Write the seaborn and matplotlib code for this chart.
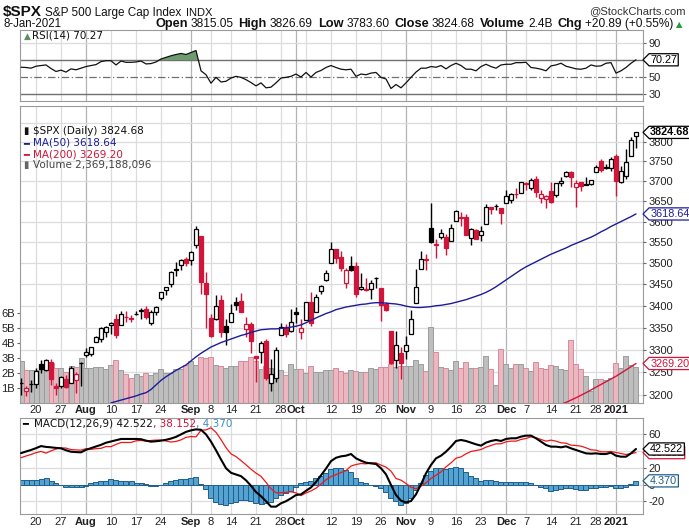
import numpy as np
import pandas as pd
import matplotlib
matplotlib.use("Agg")
import matplotlib.pyplot as plt
from matplotlib.path import Path
import seaborn as sns

# ---------------- data ----------------
prior_close = 3197.52
opens = [3225.98, 3208.36, 3224.21, 3224.29, 3268.52, 3254.86, 3271.64, 3218.58, 3219.84, 3234.27, 3227.22, 3231.76, 3270.45,
         3288.26, 3289.92, 3317.37, 3323.17, 3340.05, 3356.04, 3370.34, 3355.46, 3372.95, 3368.66, 3380.86, 3387.04, 3392.51, 3360.48, 3386.01, 3418.09, 3435.95, 3449.97, 3485.14, 3494.69, 3509.73,
         3507.44, 3543.76, 3564.74, 3453.60, 3371.88, 3369.82, 3412.56, 3352.70, 3363.56, 3407.73, 3411.23, 3346.86, 3357.38, 3285.57, 3295.75, 3320.11, 3226.14, 3236.66, 3333.90, 3350.92, 3341.21,
         3385.87, 3338.94, 3367.27, 3408.74, 3384.56, 3434.28, 3459.67, 3500.02, 3534.01, 3515.47, 3453.72, 3493.50, 3493.66, 3439.38, 3439.91, 3438.50, 3464.90, 3441.42, 3403.15, 3342.48, 3277.17, 3293.59,
         3296.20, 3336.25, 3406.46, 3485.74, 3508.34, 3583.04, 3543.26, 3563.22, 3562.67, 3552.57, 3600.16, 3610.31, 3612.09, 3559.41, 3579.31, 3566.82, 3594.52, 3635.50, 3638.55, 3634.18,
         3645.87, 3653.78, 3668.28, 3670.94, 3694.73, 3683.05, 3705.98, 3659.13, 3656.08, 3675.27, 3666.41, 3696.25, 3713.65, 3722.39, 3684.28, 3698.08, 3693.42, 3694.03, 3723.03, 3750.01, 3736.19, 3733.27,
         3764.61, 3698.02, 3712.20, 3764.71, 3815.05]
highs = [3238.28, 3220.39, 3233.52, 3258.61, 3277.29, 3279.32, 3279.99, 3227.26, 3241.43, 3243.72, 3264.74, 3250.92, 3272.17,
         3302.73, 3306.84, 3330.77, 3351.03, 3352.54, 3363.29, 3381.01, 3387.89, 3387.24, 3378.51, 3387.59, 3395.06, 3399.54, 3390.80, 3399.96, 3432.09, 3444.21, 3481.07, 3501.38, 3509.23, 3514.77,
         3528.03, 3588.11, 3564.85, 3479.15, 3379.97, 3424.77, 3425.55, 3368.95, 3402.93, 3419.48, 3428.92, 3375.17, 3362.27, 3285.57, 3320.31, 3323.35, 3278.70, 3306.88, 3360.74, 3357.92, 3393.56,
         3397.18, 3369.10, 3409.57, 3431.56, 3426.26, 3447.28, 3482.34, 3549.85, 3534.01, 3527.94, 3489.08, 3515.76, 3502.42, 3476.93, 3464.86, 3460.53, 3466.46, 3441.42, 3409.51, 3342.48, 3341.05, 3304.93,
         3330.14, 3389.49, 3486.25, 3529.05, 3521.58, 3645.99, 3557.22, 3581.16, 3569.02, 3593.66, 3628.51, 3623.11, 3619.09, 3585.22, 3581.23, 3589.81, 3642.31, 3635.50, 3644.31, 3634.18,
         3678.45, 3670.96, 3682.73, 3699.20, 3697.41, 3708.45, 3712.39, 3678.49, 3665.91, 3697.61, 3695.29, 3711.27, 3725.12, 3726.70, 3702.90, 3698.26, 3711.24, 3703.82, 3740.51, 3756.12, 3744.63, 3760.20,
         3769.99, 3737.83, 3783.04, 3811.55, 3826.69]
lows = [3200.76, 3198.59, 3205.65, 3215.16, 3247.77, 3253.10, 3222.66, 3200.05, 3214.25, 3216.17, 3227.22, 3204.13, 3220.26,
        3284.53, 3286.37, 3317.37, 3318.14, 3328.72, 3335.44, 3326.44, 3355.46, 3363.35, 3361.64, 3379.22, 3370.15, 3369.66, 3354.69, 3379.31, 3413.13, 3425.84, 3444.15, 3468.35, 3484.32, 3493.25,
        3494.60, 3535.23, 3427.41, 3349.63, 3329.27, 3366.84, 3329.25, 3310.47, 3363.56, 3389.25, 3384.45, 3328.82, 3292.40, 3229.10, 3270.95, 3232.57, 3209.45, 3228.44, 3332.91, 3327.54, 3340.47,
        3361.39, 3323.69, 3367.27, 3354.54, 3384.56, 3428.15, 3458.07, 3499.61, 3500.86, 3480.55, 3440.89, 3480.45, 3419.93, 3435.65, 3433.06, 3415.34, 3440.45, 3364.86, 3388.71, 3268.89, 3259.82, 3233.94,
        3279.74, 3336.25, 3405.17, 3485.74, 3484.34, 3547.48, 3511.91, 3557.00, 3518.58, 3552.57, 3600.16, 3588.68, 3567.33, 3543.84, 3556.85, 3552.77, 3594.52, 3617.76, 3629.33, 3594.39,
        3645.87, 3644.84, 3657.17, 3670.94, 3678.88, 3678.83, 3660.54, 3645.18, 3633.40, 3645.84, 3659.62, 3688.57, 3710.87, 3685.84, 3636.48, 3676.16, 3689.28, 3689.32, 3723.03, 3723.31, 3730.21, 3726.88,
        3662.71, 3695.07, 3705.34, 3764.71, 3783.60]
closes = [3226.56, 3215.57, 3224.73, 3251.84, 3257.30, 3276.02, 3235.66, 3215.63, 3239.41, 3218.44, 3258.44, 3246.22, 3271.12,
          3294.61, 3306.51, 3327.77, 3349.16, 3351.28, 3360.47, 3333.69, 3380.35, 3373.43, 3372.85, 3381.99, 3389.78, 3374.85, 3385.51, 3397.16, 3431.28, 3443.62, 3478.73, 3484.55, 3508.01, 3500.31,
          3526.65, 3580.84, 3455.06, 3426.96, 3331.84, 3398.96, 3339.19, 3340.97, 3383.54, 3401.20, 3385.49, 3357.01, 3319.47, 3281.06, 3315.57, 3236.92, 3246.59, 3298.46, 3351.60, 3335.47, 3363.00,
          3380.80, 3348.42, 3408.60, 3360.97, 3419.44, 3446.83, 3477.14, 3534.22, 3511.93, 3488.67, 3483.34, 3483.81, 3426.92, 3443.12, 3435.56, 3453.49, 3465.39, 3400.97, 3390.68, 3271.03, 3310.11, 3269.96,
          3310.24, 3369.16, 3443.44, 3510.45, 3509.44, 3550.50, 3545.53, 3572.66, 3537.01, 3585.15, 3626.91, 3609.53, 3567.79, 3581.87, 3557.54, 3577.59, 3635.41, 3629.65, 3638.35, 3621.63,
          3662.45, 3669.01, 3666.72, 3699.12, 3691.96, 3702.25, 3672.82, 3668.10, 3663.46, 3647.49, 3694.62, 3701.17, 3722.48, 3709.41, 3694.92, 3687.26, 3690.01, 3703.06, 3735.36, 3727.04, 3732.04, 3756.07,
          3700.65, 3726.86, 3748.14, 3803.79, 3824.68]
volume_b = [2.78, 2.2, 2.2, 2.2, 2.4, 2.5, 2.65, 2.35, 2.35, 2.1, 2.45, 2.4, 3.0,
            2.33, 2.33, 2.38, 2.38, 2.3, 2.53, 2.84, 2.18, 1.93, 1.67, 1.91, 1.8, 1.98, 1.84, 2.0, 2.24, 1.98, 2.0, 2.29, 2.24, 2.53,
            2.8, 2.53, 3.1, 2.98, 3.07, 2.53, 2.5, 2.33, 2.5, 2.45, 2.78, 2.78, 3.1, 2.8, 2.3, 2.5, 2.35, 2.3, 2.2, 1.9, 2.6,
            2.3, 2.3, 2.0, 2.5, 2.07, 2.09, 2.18, 2.18, 2.31, 2.13, 2.0, 2.18, 2.13, 2.09, 2.09, 2.36, 2.24, 2.4, 2.4, 2.6, 2.4, 2.47,
            2.47, 2.47, 2.87, 2.58, 2.13, 5.05, 3.4, 2.42, 2.36, 2.18, 2.8, 2.36, 2.73, 2.36, 2.31, 2.42, 3.13, 2.24, 1.18, 3.6,
            2.62, 2.36, 2.58, 2.58, 2.31, 2.13, 2.76, 2.33, 2.29, 2.51, 2.47, 2.29, 2.18, 4.18, 2.58, 2.24, 1.8, 0.8, 1.58, 1.58, 1.51, 1.69,
            2.69, 2.31, 3.11, 2.51, 2.37]
ma50 = [np.nan] * 18 + [
    3183, 3186, 3189, 3192, 3195, 3198, 3202, 3205, 3212, 3222, 3232, 3240, 3247, 3254, 3260, 3266,
    3275, 3284, 3292, 3299, 3306, 3311, 3316, 3320, 3324, 3328, 3332, 3335, 3339, 3342, 3345, 3346, 3347, 3347, 3348, 3349, 3351,
    3353, 3356, 3361, 3366, 3372, 3377, 3382, 3386, 3391, 3394, 3397, 3399, 3401, 3403, 3404, 3406, 3407, 3407, 3406, 3405, 3404, 3402,
    3399, 3397, 3396, 3396, 3397, 3398, 3400, 3401, 3403, 3405, 3408, 3411, 3414, 3418, 3422, 3426, 3431, 3437, 3444, 3452,
    3460, 3468, 3476, 3484, 3491, 3497, 3503, 3509, 3515, 3521, 3526, 3531, 3536, 3542, 3547, 3552, 3557, 3562, 3568, 3575, 3581, 3588,
    3594, 3600, 3606, 3612, 3618.64]
ma200 = [np.nan] * 108 + [3180, 3184, 3189, 3194, 3199.5, 3205, 3211, 3217, 3223, 3229, 3235, 3241, 3248, 3255, 3262, 3269.20]
rsi = [61.5, 61.2, 60.4, 62.7, 63.5, 64.2, 60.0, 56.5, 58.1, 55.8, 59.6, 58.5, 60.4,
       62.3, 63.5, 64.6, 68.1, 69.2, 69.2, 64.2, 68.8, 67.3, 67.3, 67.7, 68.8, 65.4, 65.8, 67.7, 71.2, 73.1, 75.0, 76.5, 77.7, 76.5,
       78.8, 81.2, 57.3, 52.7, 42.7, 49.6, 44.2, 45.0, 48.8, 50.8, 49.6, 46.9, 43.5, 39.6, 43.1, 37.3, 38.1, 43.1, 48.8, 49.6, 50.8,
       53.5, 50.0, 55.4, 50.0, 55.4, 57.7, 61.2, 63.5, 61.2, 59.2, 58.5, 59.2, 50.8, 53.5, 52.7, 54.6, 55.4, 49.6, 47.7, 36.5, 41.2, 37.3,
       43.1, 49.6, 55.8, 60.4, 60.4, 62.3, 61.5, 63.5, 59.6, 63.5, 66.2, 63.5, 59.2, 59.2, 57.3, 62.3, 65.0, 62.3, 60.4, 64.2,
       65.0, 65.0, 66.9, 66.9, 67.3, 61.2, 60.4, 59.2, 57.3, 63.1, 64.2, 66.2, 62.7, 61.2, 59.6, 59.2, 60.4, 64.2, 62.7, 63.1, 66.2, 66.9,
       54.6, 57.3, 61.2, 66.2, 70.27]
macd = [37.5, 39.5, 41.3, 43.5, 46, 45, 44.5, 43.8, 43.3, 41, 39.2, 38.8, 38.5,
        41.5, 43.5, 45.5, 47.5, 50, 51.5, 53, 54.5, 54.5, 54.5, 54.5, 54.2, 52.5, 51.3, 51.8, 52.5, 53.5, 55, 57, 60, 63,
        64.8, 66, 65.5, 60, 51.3, 41, 30, 19.5, 14, 12, 10, 5, -1.5, -9, -14, -20, -26.5, -26.5, -22.5, -20, -16.5,
        -12.6, -11.8, -7.5, -3.5, 3, 11, 19, 28, 32, 33.7, 34.5, 36.5, 31.3, 28.5, 26.1, 25.3, 24.5, 19.4, 12.2, -0.6, -12.6, -19.4,
        -21.4, -19.8, -11.8, 0.2, 13.4, 23.4, 31.3, 34.5, 39.3, 45.3, 52.1, 53.3, 52.1, 50.1, 48.1, 46.5, 50.1, 52.1, 53.3, 52.1,
        54.5, 55.3, 55.3, 57.3, 58.5, 58.5, 55.3, 51.3, 47.3, 45.3, 45.3, 44.5, 45.7, 43.3, 41.3, 39.3, 37.3, 36.9, 37.3, 36.5, 36.5, 38.1,
        34.5, 33.3, 33.3, 37.3, 42.522]
macd_hist = [5.4, 5.4, 5.4, 5.4, 6.4, 7.4, 4.2, 1.4, -0.6, -2.6, -2.6, -2.6, -2.6,
             -1.4, 1.4, 2.6, 4.2, 4.6, 6.2, 5.0, 4.2, 4.2, 4.2, 2.2, 1.4, 0.6, -1.4, -1.4, -0.6, 1.4, 4.2, 5.4, 6.6, 6.6,
             7.4, 9.0, 0.6, -5.4, -16.6, -21.4, -23.8, -24.6, -22.6, -21.4, -18.6, -18.6, -19.8, -22.6, -23.8, -22.6, -21.4, -16.6, -12.6, -10.6, -7.8,
             -2.6, 1.4, 2.6, 4.2, 7.4, 10.6, 13.4, 18.6, 20.2, 19.4, 17.9, 14.4, 7.4, 3.4, 1.4, -0.6, -1.4, -3.8, -8.6, -16.6, -19.8, -24.6,
             -22.6, -16.6, -6.6, 2.2, 11.4, 16.2, 20.2, 19.4, 18.2, 19.4, 20.6, 20.2, 15.4, 10.6, 7.4, 4.6, 5.4, 5.4, 4.6, 3.4,
             3.4, 3.4, 3.4, 3.4, 3.4, 1.4, -0.6, -2.6, -4.6, -7.8, -6.6, -5.4, -3.8, -3.8, -5.4, -6.6, -6.6, -4.6, -3.8, -2.6, -2.6, -1.4,
             -3.8, -3.8, -2.6, 0.2, 4.370]

tick_pos = [3, 8, 13, 18, 23, 28, 34, 38, 42, 47, 52, 55, 62, 67, 72, 77, 82, 87, 92, 97, 101, 106, 111, 115, 119]
tick_lab = ["20", "27", "Aug", "10", "17", "24", "Sep", "8", "14", "21", "28", "Oct", "12", "19", "26", "Nov",
            "9", "16", "23", "Dec", "7", "14", "21", "28", "2021"]
grid_pos = [3, 8, 13, 18, 23, 28, 34, 38, 42, 47, 52, 55, 57, 62, 67, 72, 77, 82, 87, 92, 97, 101, 106, 111, 115, 119]
month_pos = [13, 34, 55, 77, 97, 119]
price_ticks = [3200, 3250, 3300, 3350, 3400, 3450, 3500, 3550, 3600, 3650, 3700, 3750, 3800]
price_grid = price_ticks + [3850]

df = pd.DataFrame({"i": np.arange(len(closes)), "open": opens, "high": highs, "low": lows,
                   "close": closes, "vol": volume_b, "ma50": ma50, "ma200": ma200,
                   "rsi": rsi, "macd": macd, "hist": macd_hist})
df["prev"] = [prior_close] + closes[:-1]
df["signal"] = df["macd"] - df["hist"]

# ---------------- style ----------------
sns.set_style("white")
plt.rcParams["font.family"] = ["Liberation Sans", "DejaVu Sans"]
RED = "#D2143A"
BLUE = "#1C1C9A"
GRIDC = "#DCDCDC"
MONTHC = "#B4B4B4"
SPINEC = "#9A9A9A"

W, H = 689, 528
fig = plt.figure(figsize=(W / 100, H / 100), dpi=100)
fig.patch.set_facecolor("white")


def rect(x0, y0, x1, y1):
    return [x0 / W, 1 - y1 / H, (x1 - x0) / W, (y1 - y0) / H]


X0, X1 = 20, 643
XL = ((X0 - 21) / 5.0, (X1 - 21) / 5.0)
idx = df["i"].values

rax = fig.add_axes(rect(X0, 30, X1, 101))
vax = fig.add_axes(rect(X0, 106, X1, 403))
ax = vax.twinx()
max_ = fig.add_axes(rect(X0, 418, X1, 514))

P_LO, P_HI = 3182.7, 3893.8
V_HI = (403 - 106) / 15.0

for a in (rax, vax, max_):
    a.set_xlim(*XL)
    for s in a.spines.values():
        s.set_color(SPINEC)
        s.set_linewidth(0.8)
for s in ax.spines.values():
    s.set_visible(False)

for a in (rax, vax, max_):
    for g in grid_pos:
        a.axvline(g, color=MONTHC if g in month_pos else GRIDC, lw=0.9, zorder=0)

# ---------- main panel ----------
vax.set_ylim(0, V_HI)
lp0, lp1 = np.log(P_LO), np.log(P_HI)
for p in price_grid:
    f = (np.log(p) - lp0) / (lp1 - lp0)
    vax.axhline(f * V_HI, color=GRIDC, lw=0.9, zorder=0)

down = df["close"] < df["prev"]
vcol = np.where(down, "#EBB8C2", "#BEBEBE")
vedge = np.where(down, "#D88A9B", "#9C9C9C")
vax.bar(idx, df["vol"], width=1.0, color=vcol, edgecolor=vedge, linewidth=0.7, zorder=2)
vax.set_yticks([1, 2, 3, 4, 5, 6])
vax.set_yticklabels(["1B", "2B", "3B", "4B", "5B", "6B"])
vax.tick_params(axis="y", left=True, length=2, width=0.8, color="#666", pad=1.5, labelsize=8, labelcolor="#222")

ax.set_yscale("log")
ax.set_ylim(P_LO, P_HI)
ax.minorticks_off()
ax.set_yticks(price_ticks)
ax.set_yticklabels([str(p) for p in price_ticks])
ax.tick_params(axis="y", right=True, length=2, width=0.8, color="#666", pad=2, labelsize=8, labelcolor="#222")
ax.set_xlim(*XL)

ccol = np.where(down, RED, "black")
hollow = df["close"] > df["open"]
ax.vlines(idx, df["low"], df["high"], colors=ccol, lw=1.0, zorder=3)
body_lo = np.minimum(df["open"], df["close"])
body_h = np.maximum(np.abs(df["close"] - df["open"]), 0.6)
face = np.where(hollow, "white", ccol)
ax.bar(idx, body_h, bottom=body_lo, width=0.74, color=face, edgecolor=ccol, linewidth=0.9, zorder=4)

sns.lineplot(x=idx, y=df["ma50"], ax=ax, color=BLUE, lw=1.0, estimator=None, sort=False, zorder=5)
sns.lineplot(x=idx, y=df["ma200"], ax=ax, color=RED, lw=1.0, estimator=None, sort=False, zorder=5)
ax.set_xlabel("")
ax.set_ylabel("")

vax.set_xticks(tick_pos)
vax.set_xticklabels(tick_lab)
vax.tick_params(axis="x", bottom=False, length=0, pad=1.5, labelsize=8, labelcolor="#222")
for t, lab in zip(vax.get_xticklabels(), tick_lab):
    if not lab.isdigit() or lab == "2021":
        t.set_fontweight("bold")

# ---------- RSI ----------
rax.set_ylim(21.8, 105.3)
rax.axhline(90, color=GRIDC, lw=0.9, zorder=0)
rax.axhline(70, color="#707070", lw=1.0, zorder=1)
rax.axhline(30, color="#707070", lw=1.0, zorder=1)
rax.axhline(50, color="#707070", lw=0.9, ls=(0, (6, 2, 1, 2)), zorder=1)
rsi_arr = df["rsi"].values
rax.fill_between(idx, 70, rsi_arr, where=rsi_arr > 70, interpolate=True, color="#6E9C6E", lw=0, zorder=2)
sns.lineplot(x=idx, y=df["rsi"], ax=rax, color="#111", lw=0.9, estimator=None, sort=False, zorder=3)
rax.set_xlabel("")
rax.set_ylabel("")
rax.yaxis.tick_right()
rax.set_yticks([30, 50, 90])
rax.set_yticklabels(["30", "50", "90"])
rax.tick_params(axis="y", right=True, length=2, width=0.8, color="#666", pad=2, labelsize=8, labelcolor="#222")
rax.set_xticks([])

# ---------- MACD ----------
max_.set_ylim(-35.3, 79.6)
for g in [-20, 0, 20, 40, 60]:
    max_.axhline(g, color=GRIDC, lw=0.9, zorder=0)
max_.bar(idx, df["hist"], width=1.0, color="#55A3D2", edgecolor="#1F5F8A", linewidth=0.7, zorder=2)
sns.lineplot(x=idx, y=df["signal"], ax=max_, color="#F01818", lw=0.9, estimator=None, sort=False, zorder=3)
sns.lineplot(x=idx, y=df["macd"], ax=max_, color="black", lw=1.5, estimator=None, sort=False, zorder=4)
max_.set_xlabel("")
max_.set_ylabel("")
max_.yaxis.tick_right()
max_.set_yticks([-20, 0, 20, 60])
max_.set_yticklabels(["-20", "0", "20", "60"])
max_.tick_params(axis="y", right=True, length=2, width=0.8, color="#666", pad=2, labelsize=8, labelcolor="#222")
max_.set_xticks(tick_pos)
max_.set_xticklabels(tick_lab)
max_.tick_params(axis="x", bottom=False, length=0, pad=2, labelsize=8, labelcolor="#222")
for t, lab in zip(max_.get_xticklabels(), tick_lab):
    if not lab.isdigit() or lab == "2021":
        t.set_fontweight("bold")


# ---------- value boxes (pentagon pointing left) ----------
def pentagon(x0, y0, width, height, mutation_size):
    pad = 0.1 * mutation_size
    x0, y0 = x0 - pad, y0 - pad
    w, h = width + 2 * pad, height + 2 * pad
    tip = h * 0.5
    return Path([(x0, y0), (x0 + w, y0), (x0 + w, y0 + h), (x0, y0 + h), (x0 - tip, y0 + h / 2), (x0, y0)],
                [Path.MOVETO, Path.LINETO, Path.LINETO, Path.LINETO, Path.LINETO, Path.CLOSEPOLY])


def vbox(a, yv, txt, color, bold=False, z=10, tcolor="black"):
    a.text(1.0115, yv, txt, transform=a.get_yaxis_transform(), ha="left", va="center",
           fontsize=7.8, color=tcolor, fontweight="bold" if bold else "normal",
           bbox=dict(boxstyle=pentagon, fc="white", ec=color, lw=0.9), zorder=z, clip_on=False)


vbox(ax, closes[-1], "3824.68", "black", bold=True)
vbox(ax, ma50[-1], "3618.64", BLUE, tcolor=BLUE)
vbox(ax, ma200[-1], "3269.20", RED, tcolor=RED)
vbox(rax, rsi[-1], "70.27", "black")
vbox(max_, df["signal"].iloc[-1], "38.152", RED, z=9, tcolor=RED)
vbox(max_, macd[-1], "42.522", "black", z=10)
vbox(max_, macd_hist[-1], "4.370", "#1F5F8A", tcolor="#1F5F8A")

# ---------- legends ----------
LF = ["DejaVu Sans"]
fig.text(24 / W, 1 - 36 / H, "▲", color="#5E8E5E", fontsize=6.5, va="center", family=LF)
fig.text(32 / W, 1 - 36 / H, "RSI(14) 70.27", color="#111", fontsize=7.5, va="center", family=LF)
fig.text(23 / W, 1 - 131 / H, "▮", color="#111", fontsize=7, va="center", family=LF)
fig.text(33 / W, 1 - 131 / H, "$SPX (Daily) 3824.68", color="#111", fontsize=7.5, va="center", family=LF)
fig.text(23 / W, 1 - 143 / H, "━", color=BLUE, fontsize=7, va="center", family=LF)
fig.text(33 / W, 1 - 143 / H, "MA(50) 3618.64", color=BLUE, fontsize=7.5, va="center", family=LF)
fig.text(23 / W, 1 - 154 / H, "━", color=RED, fontsize=7, va="center", family=LF)
fig.text(33 / W, 1 - 154 / H, "MA(200) 3269.20", color=RED, fontsize=7.5, va="center", family=LF)
fig.text(23 / W, 1 - 165 / H, "▮", color="#666", fontsize=7, va="center", family=LF)
fig.text(33 / W, 1 - 165 / H, "Volume 2,369,188,096", color="#444", fontsize=7.5, va="center", family=LF)
fig.text(22 / W, 1 - 423 / H, "━", color="black", fontsize=7, va="center", family=LF)
fig.text(34 / W, 1 - 423 / H, "MACD(12,26,9) 42.522", color="#111", fontsize=7.5, va="center", family=LF)
fig.canvas.draw()
r = fig.canvas.get_renderer()


def seq(x, y, pieces, align="left"):
    objs, widths = [], []
    for s, kw, gap in pieces:
        t = fig.text(0, 1 - y / H, s, va="baseline", **kw)
        objs.append(t)
        widths.append(t.get_window_extent(renderer=r).width + gap)
    cx = x if align == "left" else x - sum(widths)
    for t, w in zip(objs, widths):
        t.set_x(cx / W)
        cx += w


lastm = [t for t in fig.texts if t.get_text() == "MACD(12,26,9) 42.522"][0]
bb = lastm.get_window_extent(renderer=r)
seq(bb.x1, 423 + 3.5, [(", 38.152", dict(color=RED, fontsize=7.5, family=LF), 0),
                       (", 4.370", dict(color="#3A8FC4", fontsize=7.5, family=LF), 0)])

seq(3, 16, [("$SPX", dict(fontsize=11, fontweight="bold", color="#111"), 3),
            ("S&P 500 Large Cap Index", dict(fontsize=8.5, color="#111"), 5),
            ("INDX", dict(fontsize=8, color="#111"), 0)])
fig.text(686 / W, 1 - 14 / H, "@StockCharts.com", fontsize=8, color="#333", ha="right", va="baseline")
fig.text(3 / W, 1 - 27 / H, "8-Jan-2021", fontsize=8.3, color="#111", va="baseline")
B = dict(fontsize=9.2, fontweight="bold", color="#111")
N = dict(fontsize=8.6, color="#111")
seq(682, 27, [("Open", B, 3), ("3815.05", N, 5), ("High", B, 3), ("3826.69", N, 5), ("Low", B, 3), ("3783.60", N, 5),
              ("Close", B, 3), ("3824.68", N, 5), ("Volume", B, 3), ("2.4B", N, 5), ("Chg", B, 3),
              ("+20.89 (+0.55%)", N, 2), ("▲", dict(fontsize=6, color="#1E9E3E", family=LF), 0)], align="right")

fig.savefig("out.png", dpi=100, facecolor="white")
